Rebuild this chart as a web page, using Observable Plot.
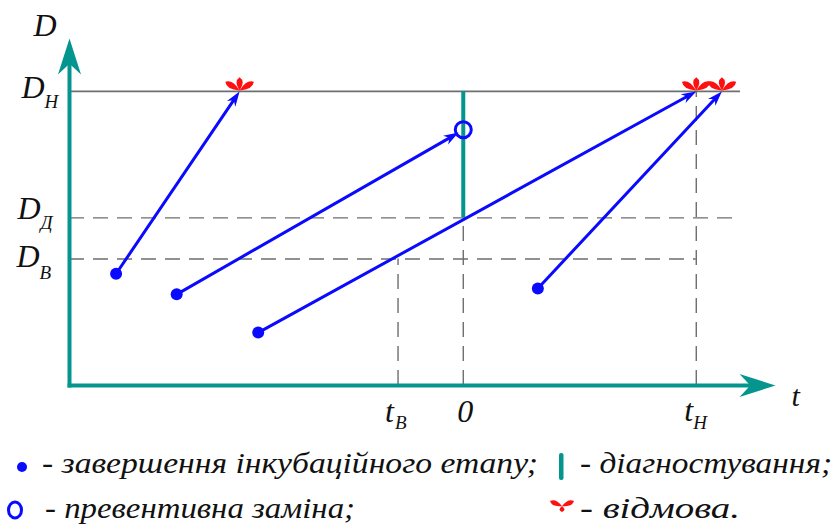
<!DOCTYPE html>
<html><head><meta charset="utf-8">
<script src="https://cdn.jsdelivr.net/npm/d3@7"></script>
<script src="https://cdn.jsdelivr.net/npm/@observablehq/plot@0.6"></script>
<style>
html,body{margin:0;padding:0;background:#fff;}
#chart{width:834px;}
#chart svg{display:block;}
</style></head><body><div id="chart"></div>
<script>
// ---- data (t: time, D: diagnostic parameter) ----
const tAxis = [-16.9, 13.4];      // t axis: origin .. arrow tip
const DAxis = [0, 11.8];          // D axis: origin .. arrow tip
const tLineEnd = 11.9;            // end of the horizontal level lines
const levelDH = 10, levelDD = 5.7, levelDB = 4.3;
const timeB = -2.8, time0 = 0, timeH = 10;

const incubationEnds = [          // start points of the degradation paths
  {t: -14.9, D: 3.8}, {t: -12.3, D: 3.1}, {t: -8.8, D: 1.8}, {t: 3.2, D: 3.3}
];
const pathEnds = [                // ends of the degradation paths
  {t: -9.6, D: 10}, {t: -0.2, D: 8.6}, {t: 10, D: 10}, {t: 11.1, D: 10}
];
const failures = [{t: -9.6, D: 10}, {t: 10, D: 10}, {t: 11.1, D: 10}];
const replacements = [{t: 0, D: 8.7}];

const yLabels = [
  {D: levelDH, main: "D", sub: "Н"},
  {D: levelDD, main: "D", sub: "Д"},
  {D: levelDB, main: "D", sub: "В"}
];
const xLabels = [
  {t: timeB, main: "t", sub: "В"},
  {t: time0, main: "0", sub: ""},
  {t: timeH, main: "t", sub: "Н"}
];
const legendItems = [
  "- завершення інкубаційного етапу;",
  "- діагностування;",
  "- превентивна заміна;",
  "- відмова."
];

// ---- styles ----
const TEAL = "#05958f", BLUE = "#0a0aff", RED = "#ff1010", GRAY = "#6e6e6e";
const FONT = "'Liberation Serif', 'Times New Roman', serif";
const X_RANGE = [69, 775], Y_RANGE = [385, 38];
const H_CHART = 436, H_LEGEND = 88;

// custom symbols
function stealth(angle, k = 1) {
  const a = angle * Math.PI / 180, c = Math.cos(a), s = Math.sin(a);
  return {draw(ctx, size) {
    const L = Math.sqrt(size / Math.PI), hw = 0.32 * L * k, n = 0.3 * L;
    const pts = [[0, 0], [-hw, L], [0, L - n], [hw, L]].map(([x, y]) => [x * c - y * s, x * s + y * c]);
    ctx.moveTo(...pts[0]); for (const p of pts.slice(1)) ctx.lineTo(...p); ctx.closePath();
  }};
}
function flower(petals, w) {
  return {draw(ctx, size) {
    const sc = Math.sqrt(size / Math.PI) / 10;
    for (const [px, py] of petals) {
      const x = px * sc, y = py * sc, l = Math.hypot(x, y), nx = -y / l, ny = x / l, ww = w * sc;
      ctx.moveTo(0, 0);
      ctx.quadraticCurveTo(0.7 * x + ww * nx, 0.7 * y + ww * ny, x, y);
      ctx.quadraticCurveTo(0.7 * x - ww * nx, 0.7 * y - ww * ny, 0, 0);
      ctx.closePath();
    }
  }};
}
const star = flower([[0, -12], [-13, -8], [13, -8]], 5.5);
const starLegend = flower([[-12, -5], [12, -5], [0, 6]], 5);

// pixel scales for head orientation
const xs = Plot.scale({x: {domain: tAxis, range: X_RANGE}});
const ys = Plot.scale({y: {domain: DAxis, range: Y_RANGE}});
const paths = incubationEnds.map((s, i) => ({t1: s.t, D1: s.D, t2: pathEnds[i].t, D2: pathEnds[i].D}));
const heads = paths.map(p => {
  const dx = xs.apply(p.t2) - xs.apply(p.t1), dy = ys.apply(p.D2) - ys.apply(p.D1);
  return Math.atan2(dx, -dy) * 180 / Math.PI;
});

const dash = {stroke: GRAY, strokeWidth: 1.4, strokeDasharray: "15,9"};
const txt = {fontFamily: FONT, fontStyle: "italic", fill: "#111"};

function labelMarks(data, xk, yk, o) {
  return [
    Plot.text(data, {x: xk, y: yk, text: "main", fontSize: 32, lineAnchor: "bottom", ...txt, ...o.main}),
    Plot.text(data, {x: xk, y: yk, text: "sub", fontSize: 19, lineAnchor: "bottom", textAnchor: "start", ...txt, ...o.sub})
  ];
}

const chart = Plot.plot({
  width: 834, height: H_CHART,
  x: {domain: tAxis, range: X_RANGE, axis: null},
  y: {domain: DAxis, range: Y_RANGE, axis: null},
  style: {fontFamily: FONT, background: "white"},
  marks: [
    // level lines
    Plot.ruleY([{D: levelDH, t1: tAxis[0], t2: tLineEnd}], {y: "D", x1: "t1", x2: "t2", stroke: GRAY, strokeWidth: 1.8}),
    Plot.ruleY([{D: levelDD, t1: tAxis[0], t2: tLineEnd}, {D: levelDB, t1: tAxis[0], t2: timeH}], {y: "D", x1: "t1", x2: "t2", ...dash}),
    Plot.ruleX([{t: timeB, D: levelDB}, {t: time0, D: levelDD}, {t: timeH, D: levelDH}], {x: "t", y1: 0, y2: "D", ...dash}),
    // diagnosis
    Plot.ruleX([{t: time0, D1: levelDD, D2: levelDH}], {x: "t", y1: "D1", y2: "D2", stroke: TEAL, strokeWidth: 4}),
    // axes
    Plot.arrow([{t1: tAxis[0], D1: -0.07, t2: tAxis[0], D2: DAxis[1]}], {x1: "t1", y1: "D1", x2: "t2", y2: "D2", stroke: TEAL, strokeWidth: 4, headLength: 0, insetEnd: 20, strokeLinecap: "butt"}),
    Plot.arrow([{t1: tAxis[0] - 0.08, D1: 0, t2: tAxis[1], D2: 0}], {x1: "t1", y1: "D1", x2: "t2", y2: "D2", stroke: TEAL, strokeWidth: 4, headLength: 0, insetEnd: 20, strokeLinecap: "butt"}),
    Plot.dot([{t: tAxis[0], D: DAxis[1]}], {x: "t", y: "D", symbol: stealth(0), r: 36, fill: TEAL}),
    Plot.dot([{t: tAxis[1], D: 0}], {x: "t", y: "D", symbol: stealth(90), r: 36, fill: TEAL}),
    // degradation paths
    Plot.arrow(paths, {x1: "t1", y1: "D1", x2: "t2", y2: "D2", stroke: BLUE, strokeWidth: 3, headLength: 0, insetEnd: 9}),
    ...paths.map((p, i) => Plot.dot([p], {x: "t2", y: "D2", symbol: stealth(heads[i], 1.05), r: 15, fill: BLUE})),
    Plot.dot(incubationEnds, {x: "t", y: "D", r: 6, fill: BLUE}),
    Plot.dot(replacements, {x: "t", y: "D", r: 8, stroke: BLUE, strokeWidth: 3, fill: "none"}),
    Plot.dot(failures, {x: "t", y: "D", symbol: star, r: 11, fill: RED, dy: -1}),
    // axis labels
    Plot.text([{t: tAxis[0], D: DAxis[1], s: "D"}], {x: "t", y: "D", text: "s", fontSize: 32, lineAnchor: "bottom", textAnchor: "end", dx: -13, dy: -3, ...txt}),
    Plot.text([{t: tAxis[1], D: 0, s: "t"}], {x: "t", y: "D", text: "s", fontSize: 30, lineAnchor: "bottom", textAnchor: "start", dx: 16, dy: 20, ...txt}),
    ...labelMarks([yLabels[0]], () => tAxis[0], "D", {main: {textAnchor: "end", dx: -25, dy: 7}, sub: {dx: -25, dy: 17}}),
    ...labelMarks([yLabels[1]], () => tAxis[0], "D", {main: {textAnchor: "end", dx: -29, dy: 1}, sub: {dx: -29, dy: 11}}),
    ...labelMarks([yLabels[2]], () => tAxis[0], "D", {main: {textAnchor: "end", dx: -30, dy: 8}, sub: {dx: -30, dy: 20}}),
    ...labelMarks([xLabels[0]], "t", () => 0, {main: {textAnchor: "start", dx: -13, dy: 36}, sub: {dx: -3, dy: 43}}),
    ...labelMarks([xLabels[1]], "t", () => 0, {main: {textAnchor: "middle", dx: 2, dy: 36}, sub: {dx: 0, dy: 43}}),
    ...labelMarks([xLabels[2]], "t", () => 0, {main: {textAnchor: "start", dx: -12, dy: 35}, sub: {dx: -3, dy: 43}})
  ]
});
document.getElementById("chart").appendChild(chart);

// ---- legend (below the plot) ----
const oy = H_CHART;
const lg = d3.select("#chart").append("svg").attr("width", 834).attr("height", H_LEGEND)
  .style("font-family", FONT).style("font-style", "italic").style("font-size", "30px");
lg.append("circle").attr("cx", 22).attr("cy", 467 - oy).attr("r", 5).attr("fill", BLUE);
lg.append("rect").attr("x", 559).attr("y", 453 - oy).attr("width", 4.5).attr("height", 27).attr("rx", 2).attr("fill", TEAL);
lg.append("ellipse").attr("cx", 15).attr("cy", 510 - oy).attr("rx", 6.5).attr("ry", 8).attr("fill", "none").attr("stroke", BLUE).attr("stroke-width", 3);
lg.append("path").attr("transform", `translate(562,${506 - oy})`).attr("d", d3.symbol(starLegend, 100 * Math.PI)()).attr("fill", RED);
const legPos = [[42, 473, 496], [580, 473, 252], [45, 518, 310], [580, 518, 160]];
legendItems.forEach((s, i) => {
  const [x, y, w] = legPos[i];
  lg.append("text").attr("x", x).attr("y", y - oy).attr("fill", "#111")
    .attr("textLength", w).attr("lengthAdjust", "spacingAndGlyphs").text(s);
});
</script></body></html>
